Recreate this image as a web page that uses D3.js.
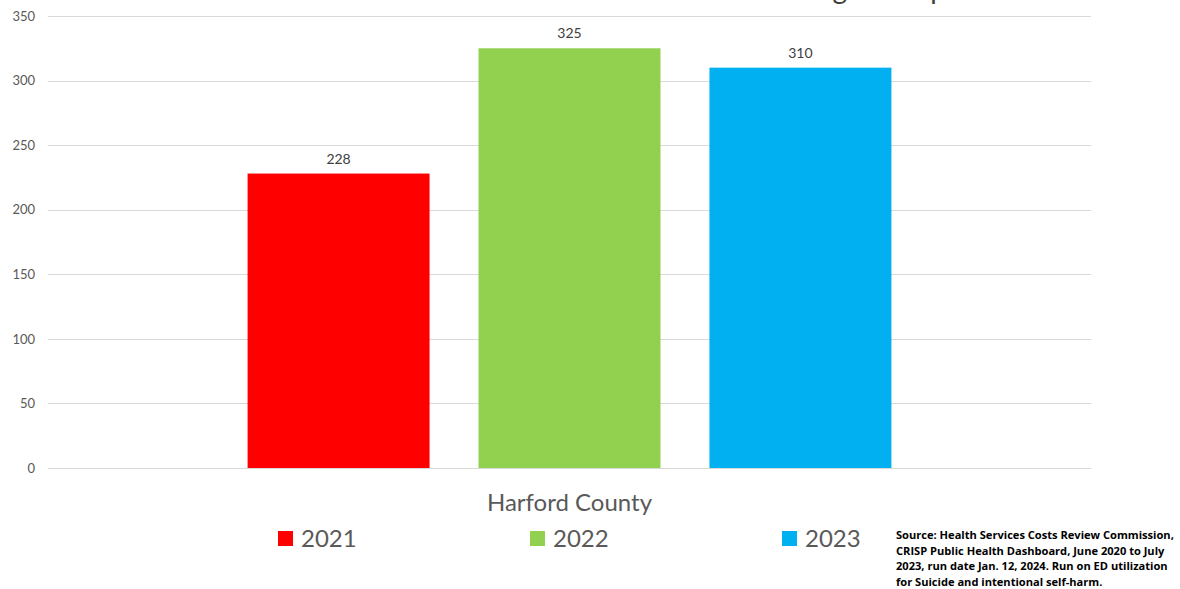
<!DOCTYPE html>
<html>
<head>
<meta charset="utf-8">
<script src="https://cdn.jsdelivr.net/npm/d3@7"></script>
<style>
  html, body { margin: 0; padding: 0; background: #ffffff; }
  svg { display: block; }
</style>
</head>
<body>
<svg id="chart" width="1180" height="589"></svg>
<script>
// Chart data
const categories = ["Harford County"];
const seriesNames = ["2021", "2022", "2023"];
const seriesValues = [228, 325, 310];
const seriesColors = ["#ff0000", "#92d050", "#00b0f0"];
const yTicks = [0, 50, 100, 150, 200, 250, 300, 350];
const titleText = "Suicide and Self-Harm ED Visits for All Age Groups";
const sourceLines = [
  "Source: Health Services Costs Review Commission,",
  "CRISP Public Health Dashboard, June 2020 to July",
  "2023, run date Jan. 12, 2024. Run on ED utilization",
  "for Suicide and intentional self-harm."
];

const svg = d3.select("#chart");
const font = "Lato, 'Open Sans', sans-serif";
const margin = { left: 48, right: 1091, top: 16, bottom: 468 };

const y = d3.scaleLinear().domain([0, 350]).range([margin.bottom, margin.top]);
const x0 = d3.scaleBand().domain(categories).range([margin.left, margin.right]).paddingInner(0).paddingOuter(0.31);
const x1 = d3.scaleBand().domain(seriesNames).range([0, x0.bandwidth()]).paddingInner(0.212).paddingOuter(0);

// Title (runs off the top edge)
svg.append("text")
  .attr("x", 958).attr("y", -1)
  .attr("text-anchor", "end")
  .attr("font-family", font).attr("font-size", 28)
  .attr("fill", "#404040")
  .text(titleText);

// Gridlines
svg.append("g").selectAll("line").data(yTicks).join("line")
  .attr("x1", margin.left).attr("x2", margin.right)
  .attr("y1", d => Math.round(y(d)) + 0.5).attr("y2", d => Math.round(y(d)) + 0.5)
  .attr("stroke", "#d9d9d9").attr("stroke-width", 1);

// Y axis labels
const yAxis = d3.axisLeft(y).tickValues(yTicks).tickSize(0).tickPadding(0);
const yg = svg.append("g").attr("transform", `translate(35,0)`).call(yAxis);
yg.select(".domain").remove();
yg.selectAll("text")
  .attr("font-family", font).attr("font-size", 13)
  .attr("fill", "#595959");

// Bars
const barData = seriesNames.map((s, i) => ({ cat: categories[0], series: s, value: seriesValues[i], color: seriesColors[i] }));
const bars = svg.append("g");
bars.selectAll("rect").data(barData).join("rect")
  .attr("x", d => x0(d.cat) + x1(d.series))
  .attr("width", x1.bandwidth())
  .attr("y", d => y(d.value))
  .attr("height", d => y(0) - y(d.value))
  .attr("fill", d => d.color);

// Value labels
bars.selectAll("text").data(barData).join("text")
  .attr("x", d => x0(d.cat) + x1(d.series) + x1.bandwidth() / 2)
  .attr("y", d => y(d.value) - 10)
  .attr("text-anchor", "middle")
  .attr("font-family", font).attr("font-size", 14)
  .attr("fill", "#404040")
  .text(d => d.value);

// Category axis label
const xAxis = d3.axisBottom(x0).tickSize(0).tickPadding(0);
const xg = svg.append("g").attr("transform", `translate(0,${margin.bottom + 26})`).call(xAxis);
xg.select(".domain").remove();
xg.selectAll("text")
  .attr("font-family", font).attr("font-size", 24)
  .attr("fill", "#595959");

// Legend
const legendX = [278, 530, 782];
const legend = svg.append("g").selectAll("g").data(barData).join("g")
  .attr("transform", (d, i) => `translate(${legendX[i]},531)`);
legend.append("rect").attr("width", 15).attr("height", 15).attr("fill", d => d.color);
legend.append("text")
  .attr("x", 23).attr("y", 16)
  .attr("font-family", font).attr("font-size", 24)
  .attr("fill", "#595959")
  .text(d => d.series);

// Source note
svg.append("g").selectAll("text").data(sourceLines).join("text")
  .attr("x", 896).attr("y", (d, i) => 539 + i * 15.5)
  .attr("font-family", "'Open Sans', sans-serif").attr("font-weight", "bold").attr("font-size", 11.1)
  .attr("fill", "#000000")
  .text(d => d);
</script>
</body>
</html>
